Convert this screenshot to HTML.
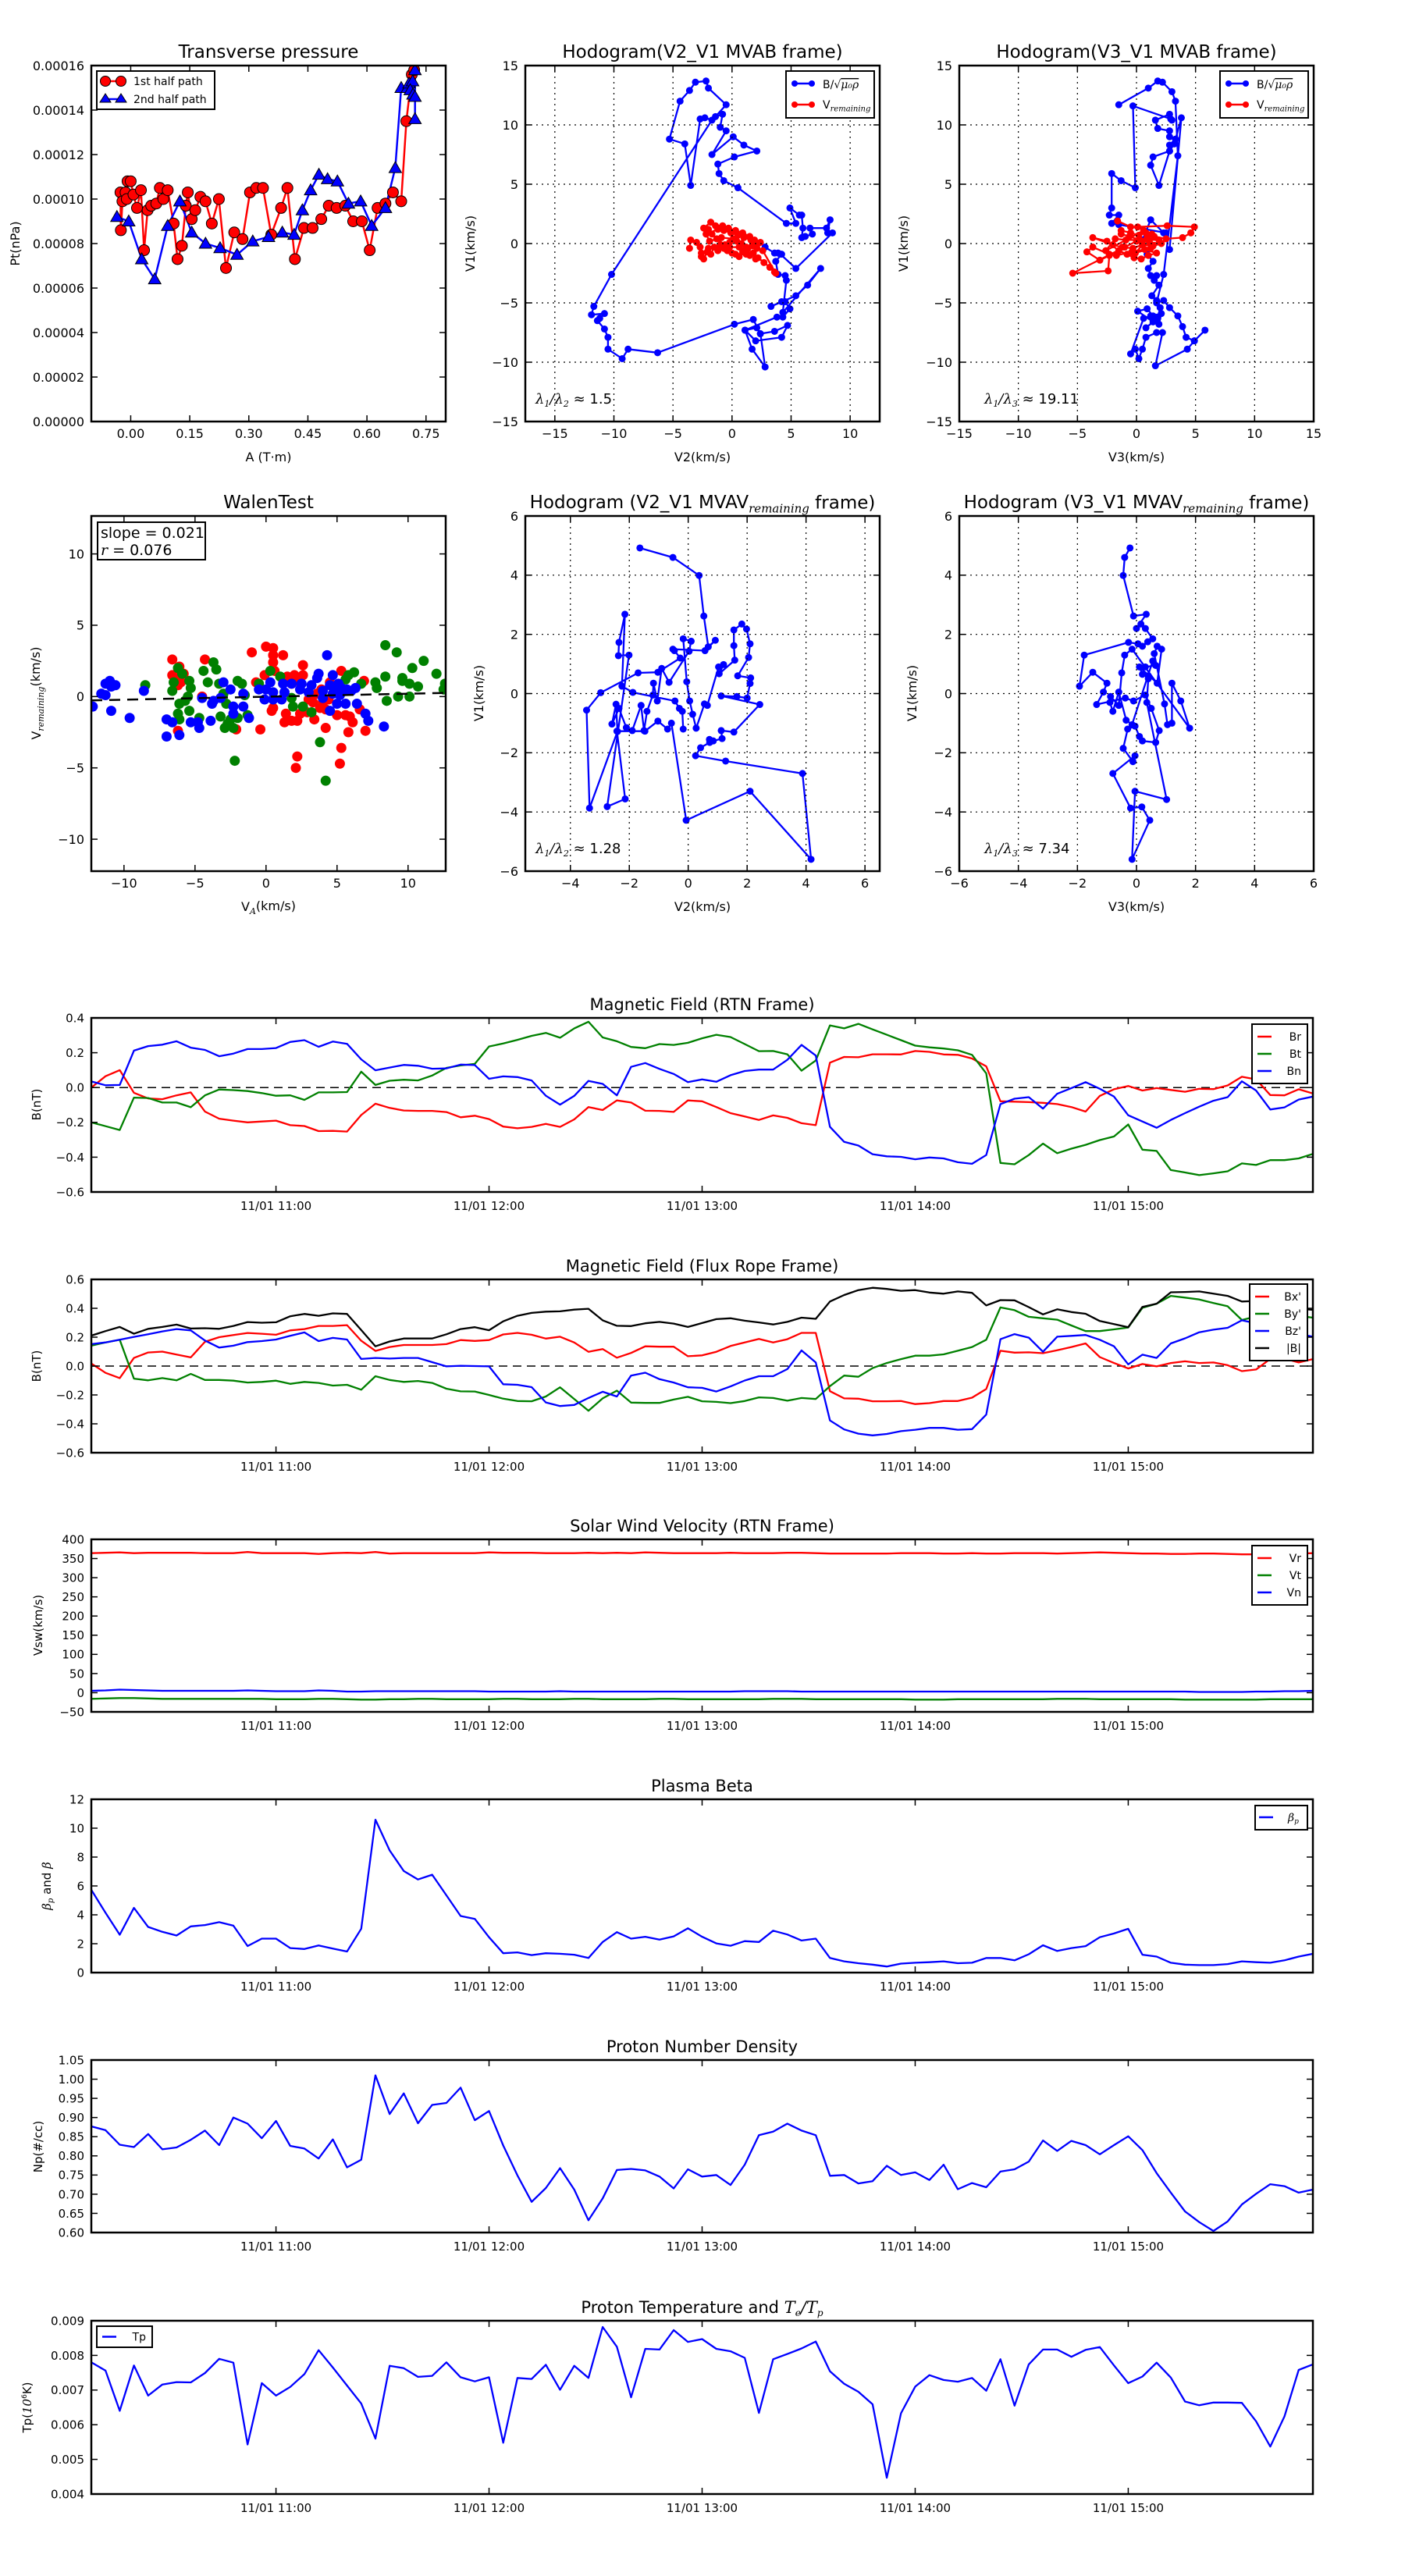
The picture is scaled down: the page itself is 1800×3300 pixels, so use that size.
<!DOCTYPE html>
<html><head><meta charset="utf-8">
<style>
html,body{margin:0;padding:0;background:#fff;}
svg{display:block;font-family:"DejaVu Sans","Liberation Sans",sans-serif;}
.m{font-family:"DejaVu Serif","Liberation Serif",serif;font-style:italic;}
</style></head>
<body>
<svg id="fig" xmlns="http://www.w3.org/2000/svg" width="1800" height="3300" viewBox="0 0 1800 3300">
<rect x="0" y="0" width="1800" height="3300" fill="#fff"/>
</svg>
<script>
// ---------------- DATA ----------------
// Transverse pressure (A in T·m, Pt in 1e-5 nPa)
const tp1A=[-0.026,-0.025,-0.021,-0.013,-0.010,-0.008,0.000,0.007,0.016,0.026,0.034,0.043,0.052,0.065,0.074,0.083,0.094,0.109,0.119,0.130,0.140,0.145,0.155,0.164,0.177,0.190,0.206,0.224,0.242,0.263,0.284,0.303,0.319,0.336,0.357,0.382,0.398,0.417,0.440,0.462,0.484,0.503,0.523,0.545,0.565,0.587,0.607,0.627,0.647,0.666,0.687,0.700,0.714,0.720];
const tp1P=[10.3,8.6,9.9,10.3,10.0,10.8,10.8,10.2,9.6,10.4,7.7,9.5,9.7,9.8,10.5,10.0,10.4,8.9,7.3,7.9,9.7,10.3,9.1,9.5,10.1,9.9,8.9,10.0,6.9,8.5,8.2,10.3,10.5,10.5,8.4,9.6,10.5,7.3,8.7,8.7,9.1,9.7,9.6,9.7,9.0,9.0,7.7,9.6,9.8,10.3,9.9,13.5,15.6,15.8];
const tp2A=[-0.035,-0.005,0.028,0.061,0.094,0.125,0.155,0.190,0.227,0.270,0.310,0.350,0.385,0.415,0.436,0.457,0.478,0.500,0.525,0.553,0.584,0.612,0.647,0.672,0.687,0.703,0.707,0.716,0.710,0.717,0.722,0.722,0.722];
const tp2P=[9.2,9.0,7.3,6.4,8.8,9.9,8.5,8.0,7.8,7.5,8.1,8.3,8.5,8.4,9.5,10.4,11.1,10.9,10.8,9.8,9.9,8.8,9.6,11.4,15.0,15.0,15.2,15.3,14.9,14.7,14.6,13.6,15.8];
const tpXTicks=[0,0.15,0.30,0.45,0.60,0.75];
const tpYTicks=[0,2,4,6,8,10,12,14,16];

// Hodogram V2_V1 MVAB
const h1bV2=[2.8,3.6,4.1,5.4,8.5,8.1,8.3,8.0,6.6,6.8,6.2,5.9,6.0,5.9,5.7,4.9,5.4,4.6,0.5,-0.7,-1.1,-1.2,0.2,2.1,1.0,0.1,-1.7,-0.5,-1.0,-0.8,-1.4,-0.5,-2.0,-2.2,-3.1,-3.6,-4.4,-5.3,-4.0,-3.5,-2.7,-2.3,-1.7,-10.2,-11.7,-11.9,-10.8,-11.2,-11.4,-10.8,-10.5,-10.5,-9.3,-8.8,-6.3,0.2,1.8,2.4,2.1,1.1,1.7,2.8,2.4,3.6,4.7,4.2,2.0,1.1,3.8,4.3,4.9,4.5,4.2,3.3,5.4,6.4,7.5,4.3,4.6,4.5,3.9,3.7,4.2,3.9];
const h1bV1=[-0.3,-0.8,-0.9,-2.1,0.9,0.9,2.0,1.3,1.3,0.8,0.6,0.5,1.3,2.4,2.4,3.0,1.7,1.7,4.7,5.3,5.9,6.7,7.3,7.8,8.3,9.0,7.5,9.5,9.8,10.9,10.7,11.7,13.1,13.7,13.6,12.9,12.0,8.8,8.4,4.9,10.5,10.6,10.4,-2.6,-5.3,-6.0,-5.9,-6.3,-6.5,-7.2,-7.9,-8.9,-9.7,-8.9,-9.2,-6.8,-6.4,-7.6,-7.1,-7.3,-8.9,-10.4,-7.6,-7.4,-6.9,-7.9,-8.2,-7.3,-6.2,-6.2,-5.5,-4.9,-4.9,-5.3,-4.4,-3.5,-2.1,-5.8,-3.1,-2.7,-2.6,-1.5,-0.9,-0.8];
const h1rV2=[-3.6,-3.5,-3.0,-2.7,-2.6,-2.6,-2.4,-2.1,-2.0,-1.8,-1.5,-1.2,-1.0,-0.7,-0.4,0.0,0.3,0.6,0.9,1.2,1.5,1.8,2.0,2.2,2.7,3.2,3.6,3.7,2.6,2.1,1.7,1.2,0.8,0.4,-0.2,-0.6,-1.3,-1.7,-2.0,-2.4,-1.8,-1.4,-0.8,-0.3,0.3,0.9,1.5,1.9,2.2,2.4,1.6,1.0,0.5,-0.1,-0.7,-1.2,-2.2,-1.9,-0.9,0.1,1.3,0.6,-0.2];
const h1rV1=[-0.4,0.3,0.1,-0.3,-0.8,-1.1,-1.3,-0.7,-0.4,-0.9,-0.3,-0.6,-0.1,-0.4,-0.6,-0.8,-0.9,-1.1,-0.7,-0.9,-1.0,-0.8,-1.3,-1.2,-1.6,-2.0,-2.4,-2.5,-0.6,-0.4,-0.2,-0.3,0.0,0.2,0.1,-0.1,0.4,0.8,1.2,1.3,1.8,1.5,1.5,1.3,1.1,0.9,0.6,0.3,0.0,0.1,0.3,0.5,0.7,0.9,1.1,1.2,0.8,0.2,0.5,0.4,-0.5,-0.3,-0.3];

// Hodogram V3_V1 MVAB
const h2bV3=[-1.5,1.0,1.8,2.2,3.0,3.3,3.5,2.3,1.7,2.3,2.8,3.5,3.9,4.2,4.9,5.8,4.9,4.3,1.6,2.2,1.7,0.8,0.5,0.2,-0.1,-0.5,0.6,1.2,2.1,1.9,1.4,0.9,0.1,1.4,0.8,1.8,2.0,1.7,1.3,1.9,1.5,1.7,1.2,1.0,1.4,0.9,0.5,1.2,2.3,2.5,-1.5,-2.1,-1.5,-2.3,-2.1,-2.1,-1.3,-0.1,-0.3,2.9,3.0,2.8,1.6,1.8,2.8,2.8,3.3,2.8,2.8,1.4,1.2,1.9,2.8,3.2,3.8,2.8];
const h2bV1=[11.7,13.1,13.7,13.6,12.8,12.0,7.4,-2.6,-5.0,-4.8,-5.4,-6.1,-7.0,-7.9,-8.2,-7.3,-8.2,-8.9,-10.3,-7.5,-7.5,-7.9,-8.9,-9.7,-8.9,-9.3,-6.3,-6.1,-5.9,-6.8,-6.1,-5.5,-5.7,-6.6,-7.1,-6.3,-5.4,-4.8,-4.4,-3.5,-3.1,-2.7,-2.7,-2.1,-1.5,-0.9,0.3,2.0,0.9,0.9,1.6,1.7,2.4,2.4,3.0,5.9,5.3,4.7,11.6,10.5,10.4,10.9,10.4,9.7,9.5,9.0,8.8,8.3,7.8,7.3,6.6,4.9,7.8,8.4,10.6,-0.5];
const h2rV3=[-1.6,-0.5,0.1,2.6,4.9,4.6,3.9,2.5,1.5,0.8,0.2,-0.5,-1.3,-1.3,-0.6,0.3,1.1,2.1,1.4,0.5,-0.3,-1.2,-2.0,-3.7,-2.5,-1.5,-0.8,-0.2,0.4,1.0,1.7,0.7,-0.4,-1.7,-2.3,-3.7,-4.2,-3.1,-2.3,-2.4,-5.4,-1.0,0.0,0.9,1.9,-0.9,-1.8,-2.6,0.6,1.3,-0.1,1.2];
const h2rV1=[1.9,1.4,1.4,1.5,1.4,0.9,0.5,0.4,0.6,0.9,0.7,0.9,1.1,0.8,0.6,0.3,0.1,0.0,-0.2,-0.1,-0.4,-0.3,-0.1,0.5,0.2,-0.6,-0.9,-1.2,-1.3,-1.0,-0.8,-0.5,-0.7,-1.0,-0.9,-0.3,-0.7,-1.4,-1.0,-2.3,-2.5,-0.3,0.2,0.5,0.3,0.3,0.4,-0.6,1.1,0.8,-0.8,-0.4];
const mvabTicks=[-15,-10,-5,0,5,10,15];

// Walen test
const walRedX=[0.0,0.5,0.5,-1.0,1.2,0.5,0.6,-0.1,1.5,2.0,2.6,2.6,2.2,1.8,-0.7,0.5,0.4,1.4,1.3,1.8,2.2,2.4,2.9,3.3,3.4,3.8,4.0,4.2,4.4,4.5,4.2,5.0,5.3,5.2,5.6,5.8,6.1,5.9,6.6,7.0,6.9,5.3,2.1,2.2,-0.4,-2.1,-6.6,-6.1,-6.6,-5.8,-6.2,-6.0,-6.2,-6.2,-4.3,-4.5,3.1,3.6,3.0,3.9];
const walRedY=[3.5,3.4,2.9,3.1,2.9,2.4,1.8,1.5,1.4,1.5,1.5,2.2,1.1,0.9,1.0,-0.8,-1.0,-1.2,-1.8,-1.7,-1.7,-1.2,-1.1,-0.4,-1.6,-0.8,-0.4,-0.9,-0.2,1.0,-2.2,-1.3,-3.6,-4.7,-1.3,-2.5,-1.8,-1.4,-0.9,-2.4,1.1,1.8,-5.0,-4.2,-2.3,-2.3,2.6,2.1,1.5,1.6,1.5,1.0,0.8,-2.4,2.6,0.0,0.0,0.2,-0.2,0.5];
const walGreenX=[-8.5,-6.6,-6.5,-6.2,-5.9,-5.4,-5.3,-5.5,-5.7,-6.1,-6.2,-6.1,-5.4,-4.7,-4.4,-4.1,-3.7,-3.5,-3.3,-3.0,-2.8,-2.7,-2.9,-2.5,-2.3,-2.0,-3.2,-2.0,-1.7,-1.5,-1.3,-2.2,-0.5,0.3,1.0,1.8,1.9,2.6,3.2,3.8,4.2,5.6,5.8,6.2,6.7,7.7,7.8,8.4,8.4,8.5,9.2,9.3,9.6,9.6,10.1,10.1,10.3,10.7,11.1,12.0,12.5,12.6];
const walGreenY=[0.8,0.4,1.0,2.0,1.6,1.1,0.6,0.0,-0.3,-0.5,-1.2,-1.6,-1.0,-1.5,1.8,1.0,2.4,1.9,0.9,0.2,-0.5,-1.9,-2.2,-1.6,-2.2,-1.5,-1.4,1.1,0.9,0.1,-1.3,-4.5,0.9,1.8,1.4,-0.1,-0.7,-0.7,-1.1,-3.2,-5.9,1.2,1.5,1.7,0.9,1.0,0.6,3.6,1.4,-0.3,3.1,0.0,1.3,1.1,0.0,0.9,2.0,0.7,2.5,1.6,0.5,0.9];
const walBlueX=[-12.2,-11.6,-11.3,-11.3,-11.0,-10.9,-10.6,-10.9,-9.6,-8.6,-7.0,-6.6,-7.0,-6.1,-5.3,-4.8,-4.7,-4.5,-3.9,-3.8,-3.7,-3.2,-3.0,-2.5,-2.3,-2.3,-1.6,-1.6,-1.2,-0.5,-0.1,0.0,0.3,0.5,0.5,1.1,1.2,1.3,1.8,2.4,2.5,3.0,3.2,3.6,3.7,4.0,4.0,4.3,4.5,4.5,4.7,4.9,5.0,5.1,5.3,5.5,5.6,5.7,6.0,6.3,6.4,7.0,7.2,8.3,4.7,5.2];
const walBlueY=[-0.7,0.2,0.1,0.9,1.1,0.7,0.8,-1.0,-1.5,0.4,-1.6,-1.8,-2.8,-2.7,-1.8,-1.8,-2.2,-0.1,-1.7,-0.5,-0.3,-0.1,1.0,0.5,-0.7,-1.2,0.2,-0.7,-1.5,0.5,-0.2,0.5,1.0,0.3,-0.2,-0.2,0.9,0.3,0.9,0.5,0.9,0.3,0.8,1.3,1.6,0.4,-0.1,2.9,0.8,-1.0,1.5,0.5,-0.5,0.9,0.6,0.4,-0.5,0.5,0.4,0.6,-0.5,-1.2,-1.7,-2.1,0.2,0.1];
const walenSlope=0.021, walenIntercept=-0.01;
const walTicks=[-10,-5,0,5,10];

// Hodogram V2_V1 MVAV
const h3V2=[-1.64,-0.52,0.37,0.53,0.68,0.92,0.57,-0.52,-0.47,-0.27,-1.03,-1.7,-2.97,-3.45,-3.35,-2.4,-2.45,-2.59,-2.35,-2.1,-1.9,-1.6,-1.5,-1.4,-1.2,-1.18,-1.05,-0.9,-0.65,0.03,0.1,-0.17,-0.05,0.05,0.15,0.27,0.55,0.65,1.03,1.2,1.05,1.58,1.55,1.55,1.82,1.98,2.1,2.05,1.68,2.12,2.1,2.0,1.65,1.12,2.43,1.55,1.12,1.15,0.85,0.72,0.73,0.42,0.25,1.27,3.88,4.17,2.1,-0.07,-0.57,-0.7,-1.03,-1.47,-2.42,-2.14,-2.75,-2.01,-2.37,-2.35,-2.15,-2.25,-1.88,-0.45,-0.3,-0.2,-0.17];
const h3V1=[4.92,4.6,3.99,2.62,1.58,1.8,1.45,1.5,1.45,1.2,0.72,0.7,0.03,-0.56,-3.87,-1.28,-0.36,-1.03,-0.5,-1.15,-1.25,-0.4,-1.25,-0.6,-0.05,0.35,-0.25,0.85,0.38,1.43,1.77,1.85,0.4,-0.25,-0.7,-1.17,-0.35,-0.4,0.9,0.98,0.67,1.13,1.62,2.15,2.35,2.18,1.68,1.22,0.6,0.53,0.34,-0.15,-0.1,-0.08,-0.37,-1.3,-1.25,-1.52,-1.6,-1.55,-1.65,-1.83,-2.1,-2.28,-2.7,-5.6,-3.3,-4.28,-1.0,-1.2,-0.93,-1.27,-1.27,-3.56,-3.82,1.3,1.28,1.73,2.68,0.25,0.04,-0.25,-0.5,-0.6,-1.2];
const h4V3=[-0.22,-0.4,-0.45,-0.1,0.33,0.0,0.15,0.3,0.55,0.38,0.2,0.05,-0.27,-1.77,-1.93,-1.48,-1.0,-1.12,-1.35,-0.38,-0.1,0.3,0.5,0.77,0.65,0.2,0.1,-0.05,-0.3,-0.45,-0.12,-0.05,-0.8,-0.2,0.18,0.45,-0.15,-0.05,1.02,0.35,0.4,0.4,0.2,0.1,0.7,0.85,0.7,0.6,0.95,1.05,1.2,1.2,1.5,1.8,-0.15,-0.4,-0.5,-0.6,-0.88,-0.9,-0.8,-0.6,-0.35,-0.15,0.55,0.65,0.3];
const h4V1=[4.92,4.6,3.99,2.62,2.68,2.2,2.35,2.2,1.85,1.75,1.6,1.68,1.73,1.3,0.25,0.72,0.35,0.05,-0.37,-0.15,-0.25,-0.05,-0.5,-1.25,-1.65,-1.6,-1.45,-1.1,-1.2,-1.85,-2.3,-2.1,-2.7,-3.87,-3.83,-4.28,-5.6,-3.3,-3.58,-0.3,0.5,0.6,0.65,0.9,0.35,1.5,1.6,1.35,-0.35,-1.05,-1.0,0.35,-0.25,-1.17,1.5,1.3,0.7,-0.4,-0.1,-0.3,-0.6,0.05,-0.9,-1.05,1.1,0.95,0.9];
const mvavTicksX=[-4,-2,0,2,4,6];
const mvavTicksY=[-6,-4,-2,0,2,4,6];
const mvavTicks3=[-6,-4,-2,0,2,4,6];

// Time series: 4-min cadence starting 10:08
const tStartMin=608, tStepMin=4;
const hourTicks=[660,720,780,840,900];
const hourLabels=['11/01 11:00','11/01 12:00','11/01 13:00','11/01 14:00','11/01 15:00'];
const Br=[0.0,0.065,0.10,-0.03,-0.063,-0.067,-0.045,-0.028,-0.138,-0.179,-0.19,-0.20,-0.195,-0.19,-0.216,-0.221,-0.25,-0.249,-0.253,-0.158,-0.093,-0.117,-0.132,-0.134,-0.134,-0.141,-0.171,-0.162,-0.181,-0.224,-0.234,-0.226,-0.209,-0.226,-0.183,-0.112,-0.129,-0.074,-0.086,-0.133,-0.134,-0.14,-0.074,-0.079,-0.112,-0.147,-0.166,-0.186,-0.16,-0.174,-0.205,-0.216,0.143,0.176,0.174,0.191,0.191,0.19,0.21,0.205,0.19,0.188,0.167,0.122,-0.079,-0.081,-0.084,-0.088,-0.095,-0.112,-0.138,-0.048,-0.01,0.009,-0.017,-0.003,-0.014,-0.024,-0.007,-0.009,0.012,0.062,0.047,-0.043,-0.045,-0.01,-0.034];
const Bt=[-0.20,-0.222,-0.244,-0.058,-0.06,-0.086,-0.086,-0.113,-0.045,-0.011,-0.015,-0.02,-0.032,-0.047,-0.045,-0.071,-0.028,-0.028,-0.026,0.091,0.015,0.039,0.045,0.041,0.069,0.113,0.127,0.136,0.236,0.253,0.274,0.297,0.314,0.286,0.34,0.378,0.288,0.266,0.233,0.226,0.25,0.245,0.257,0.283,0.303,0.29,0.25,0.209,0.21,0.191,0.097,0.155,0.357,0.34,0.366,0.334,0.303,0.272,0.241,0.231,0.224,0.214,0.188,0.081,-0.433,-0.441,-0.388,-0.322,-0.377,-0.351,-0.329,-0.302,-0.281,-0.212,-0.357,-0.364,-0.474,-0.488,-0.503,-0.493,-0.481,-0.436,-0.445,-0.417,-0.417,-0.407,-0.381];
const Bn=[0.035,0.013,0.015,0.212,0.238,0.246,0.266,0.229,0.216,0.18,0.195,0.221,0.221,0.227,0.262,0.272,0.234,0.264,0.251,0.162,0.099,0.115,0.13,0.125,0.108,0.11,0.132,0.129,0.05,0.064,0.06,0.041,-0.047,-0.098,-0.048,0.038,0.021,-0.045,0.119,0.141,0.107,0.078,0.031,0.047,0.033,0.071,0.095,0.103,0.103,0.159,0.245,0.184,-0.226,-0.312,-0.333,-0.383,-0.395,-0.398,-0.412,-0.402,-0.407,-0.429,-0.438,-0.388,-0.095,-0.064,-0.055,-0.121,-0.036,-0.003,0.031,-0.007,-0.052,-0.159,-0.195,-0.231,-0.186,-0.147,-0.11,-0.076,-0.055,0.036,-0.017,-0.126,-0.114,-0.069,-0.052];
const Bx=[0.018,-0.047,-0.083,0.056,0.094,0.1,0.08,0.06,0.168,0.2,0.215,0.229,0.224,0.217,0.247,0.256,0.278,0.278,0.283,0.175,0.105,0.132,0.146,0.146,0.146,0.152,0.18,0.174,0.18,0.219,0.23,0.217,0.19,0.203,0.163,0.099,0.118,0.058,0.091,0.137,0.134,0.134,0.068,0.074,0.099,0.139,0.163,0.188,0.163,0.186,0.23,0.23,-0.174,-0.224,-0.226,-0.244,-0.244,-0.242,-0.263,-0.257,-0.242,-0.242,-0.219,-0.159,0.106,0.093,0.095,0.089,0.11,0.132,0.157,0.062,0.021,-0.017,0.014,-0.002,0.021,0.033,0.021,0.025,0.006,-0.035,-0.024,0.05,0.052,0.025,0.048];
const By=[0.141,0.164,0.182,-0.087,-0.099,-0.083,-0.099,-0.054,-0.096,-0.096,-0.101,-0.114,-0.11,-0.101,-0.123,-0.11,-0.117,-0.135,-0.13,-0.164,-0.07,-0.096,-0.11,-0.103,-0.117,-0.157,-0.175,-0.176,-0.2,-0.226,-0.242,-0.244,-0.211,-0.147,-0.228,-0.31,-0.224,-0.17,-0.253,-0.255,-0.255,-0.232,-0.213,-0.244,-0.248,-0.257,-0.242,-0.217,-0.221,-0.24,-0.221,-0.228,-0.139,-0.066,-0.074,-0.014,0.021,0.048,0.072,0.072,0.081,0.106,0.132,0.182,0.406,0.387,0.341,0.331,0.321,0.281,0.242,0.242,0.254,0.267,0.403,0.432,0.486,0.474,0.461,0.437,0.414,0.319,0.343,0.354,0.354,0.348,0.335];
const Bz=[0.152,0.164,0.182,0.202,0.22,0.24,0.256,0.247,0.177,0.128,0.141,0.166,0.173,0.184,0.209,0.233,0.173,0.195,0.184,0.049,0.056,0.052,0.056,0.056,0.027,-0.002,0.002,0.0,-0.002,-0.126,-0.13,-0.146,-0.252,-0.277,-0.269,-0.221,-0.178,-0.211,-0.066,-0.046,-0.091,-0.114,-0.147,-0.151,-0.176,-0.141,-0.1,-0.07,-0.07,-0.021,0.108,0.025,-0.377,-0.439,-0.468,-0.48,-0.47,-0.451,-0.441,-0.428,-0.428,-0.441,-0.437,-0.336,0.186,0.221,0.197,0.099,0.203,0.209,0.215,0.182,0.137,0.012,0.079,0.056,0.157,0.192,0.234,0.252,0.265,0.317,0.296,0.265,0.24,0.223,0.203];
const Bmag=[0.211,0.242,0.271,0.224,0.258,0.271,0.287,0.26,0.262,0.258,0.278,0.305,0.3,0.303,0.345,0.361,0.348,0.365,0.361,0.249,0.137,0.17,0.191,0.191,0.191,0.22,0.256,0.269,0.248,0.31,0.348,0.368,0.377,0.379,0.391,0.397,0.317,0.279,0.277,0.296,0.306,0.294,0.271,0.298,0.325,0.331,0.314,0.302,0.288,0.306,0.335,0.327,0.447,0.492,0.526,0.542,0.534,0.521,0.526,0.509,0.501,0.517,0.507,0.42,0.457,0.455,0.408,0.358,0.393,0.374,0.362,0.312,0.29,0.269,0.41,0.432,0.511,0.513,0.517,0.501,0.486,0.447,0.451,0.43,0.41,0.397,0.389];
const Vr=[364,365,366,364,365,365,365,365,364,364,364,367,364,364,364,364,362,364,365,364,367,363,364,364,364,364,364,364,366,365,365,365,364,364,364,365,364,365,364,366,365,364,364,364,364,365,364,364,364,365,365,364,363,363,363,363,363,364,364,364,363,363,364,363,363,364,364,364,363,364,365,366,365,364,363,363,362,362,363,363,362,361,361,361,362,363,364];
const Vt=[-16,-15,-14,-14,-15,-16,-16,-16,-16,-16,-16,-16,-16,-17,-17,-17,-16,-16,-17,-18,-18,-17,-17,-16,-16,-17,-17,-17,-17,-16,-16,-17,-17,-17,-16,-16,-17,-17,-17,-17,-16,-16,-17,-17,-17,-17,-17,-17,-16,-16,-16,-17,-17,-17,-17,-17,-17,-17,-18,-18,-18,-17,-17,-17,-17,-17,-17,-17,-16,-16,-16,-17,-17,-17,-17,-17,-17,-18,-18,-18,-18,-18,-18,-17,-17,-17,-17];
const Vn=[5,6,8,7,6,5,5,5,5,5,5,6,5,4,4,4,6,5,3,3,4,4,4,4,4,4,4,4,3,3,3,3,3,4,3,3,3,3,3,3,3,3,3,3,3,3,4,4,4,4,3,3,3,3,3,3,3,3,3,3,3,3,3,3,3,3,3,3,3,3,3,3,3,3,3,3,3,3,2,2,2,2,3,3,4,4,5];
const betaP=[5.73,4.14,2.62,4.48,3.16,2.82,2.57,3.2,3.29,3.49,3.25,1.84,2.35,2.35,1.7,1.63,1.88,1.66,1.46,3.04,10.59,8.46,7.03,6.45,6.78,5.35,3.92,3.72,2.45,1.34,1.4,1.21,1.34,1.3,1.24,1.01,2.12,2.8,2.35,2.48,2.28,2.51,3.07,2.48,2.02,1.86,2.18,2.12,2.9,2.64,2.22,2.35,1.01,0.78,0.65,0.55,0.42,0.62,0.68,0.72,0.78,0.65,0.68,1.01,1.01,0.85,1.27,1.89,1.5,1.7,1.83,2.45,2.71,3.03,1.24,1.11,0.68,0.55,0.52,0.52,0.59,0.78,0.72,0.68,0.85,1.11,1.3];
const Np=[0.877,0.867,0.829,0.823,0.857,0.817,0.822,0.842,0.866,0.828,0.9,0.884,0.846,0.891,0.826,0.819,0.793,0.843,0.77,0.79,1.01,0.909,0.963,0.885,0.933,0.938,0.978,0.893,0.917,0.827,0.749,0.68,0.716,0.768,0.712,0.632,0.689,0.763,0.766,0.762,0.746,0.715,0.765,0.746,0.75,0.724,0.777,0.854,0.863,0.884,0.866,0.854,0.748,0.75,0.728,0.734,0.774,0.75,0.757,0.737,0.777,0.713,0.729,0.718,0.759,0.765,0.785,0.84,0.813,0.839,0.828,0.804,0.828,0.851,0.815,0.755,0.704,0.655,0.627,0.604,0.629,0.673,0.701,0.726,0.721,0.704,0.712];
const Tp=[0.0078,0.00756,0.0064,0.00771,0.00684,0.00716,0.00723,0.00722,0.00749,0.0079,0.00779,0.00543,0.0072,0.00684,0.00709,0.00746,0.00815,0.00765,0.00713,0.00661,0.0056,0.0077,0.00763,0.00738,0.00741,0.0078,0.00737,0.00725,0.00737,0.00548,0.00735,0.00732,0.00773,0.00701,0.0077,0.00735,0.00882,0.00825,0.00679,0.00819,0.00817,0.00873,0.00839,0.00847,0.00819,0.00812,0.00793,0.00634,0.00789,0.00804,0.0082,0.0084,0.00754,0.00718,0.00695,0.00659,0.00447,0.00633,0.0071,0.00743,0.00729,0.00724,0.00735,0.00698,0.00789,0.00655,0.00774,0.00817,0.00817,0.00796,0.00816,0.00824,0.00771,0.0072,0.00739,0.00779,0.00736,0.00667,0.00656,0.00664,0.00664,0.00663,0.0061,0.00537,0.00624,0.00758,0.00774];
const bTicksRTN=[-0.6,-0.4,-0.2,0.0,0.2,0.4];
const bTicksFR=[-0.6,-0.4,-0.2,0.0,0.2,0.4,0.6];
const vTicks=[-50,0,50,100,150,200,250,300,350,400];
const betaTicks=[0,2,4,6,8,10,12];
const npTicks=[0.60,0.65,0.70,0.75,0.80,0.85,0.90,0.95,1.00,1.05];
const tpTicks=[0.004,0.005,0.006,0.007,0.008,0.009];

// ---------------- DRAWING ----------------
const NS='http://www.w3.org/2000/svg';
const svg=document.getElementById('fig');
function el(tag,attrs,parent){const e=document.createElementNS(NS,tag);for(const k in attrs)e.setAttribute(k,attrs[k]);(parent||svg).appendChild(e);return e;}
function fmtNum(v,d){const s=Math.abs(v).toFixed(d);return (v<-1e-12?'\u2212':'')+s;}
let clipId=0;
function axes(name,l,t,r,b,xmin,xmax,ymin,ymax){
  const g=el('g',{});
  
  
  const cid='clip'+(clipId++);
  const cp=el('clipPath',{id:cid},g);
  el('rect',{x:l,y:t,width:r-l,height:b-t},cp);
  const data=el('g',{'clip-path':'url(#'+cid+')'},g);
  
  
  return {g,data,l,t,r,b,x:v=>l+(v-xmin)/(xmax-xmin)*(r-l),y:v=>b-(v-ymin)/(ymax-ymin)*(b-t)};
}
function text(parent,x,y,str,size,anchor,extra){
  const t=el('text',Object.assign({x:x,y:y,'font-size':size,'text-anchor':anchor||'middle',fill:'#000'},extra||{}),parent);
  t.textContent=str;return t;
}
function grid(ax,xt,yt){
  for(const v of xt){const ln=el('line',{x1:ax.x(v),x2:ax.x(v),y1:ax.t,y2:ax.b,stroke:'#000','stroke-width':1.2,'stroke-dasharray':'2,5'},ax.g);
    
    }
  for(const v of yt){const ln=el('line',{x1:ax.l,x2:ax.r,y1:ax.y(v),y2:ax.y(v),stroke:'#000','stroke-width':1.2,'stroke-dasharray':'2,5'},ax.g);
    
    }
}
function frame(ax,xt,xlab,yt,ylab,fs,xoff){
  const g=ax.g;
  xt.forEach((v,i)=>{const X=ax.x(v);
    el('line',{x1:X,x2:X,y1:ax.b,y2:ax.b-8,stroke:'#000','stroke-width':1.5},g);
    el('line',{x1:X,x2:X,y1:ax.t,y2:ax.t+8,stroke:'#000','stroke-width':1.5},g);
    if(xlab){const t=text(g,X,ax.b+(xoff||21),xlab(v,i),fs,'middle');
      
      }
  });
  yt.forEach((v,i)=>{const Y=ax.y(v);
    el('line',{x1:ax.l,x2:ax.l+8,y1:Y,y2:Y,stroke:'#000','stroke-width':1.5},g);
    el('line',{x1:ax.r,x2:ax.r-8,y1:Y,y2:Y,stroke:'#000','stroke-width':1.5},g);
    if(ylab){const t=text(g,ax.l-9,Y+fs*0.36,ylab(v,i),fs,'end');
      
      }
  });
  const sp=el('rect',{x:ax.l,y:ax.t,width:ax.r-ax.l,height:ax.b-ax.t,fill:'none',stroke:'#000','stroke-width':2.5},g);
  
  
}
function poly(ax,xs,ys,color,w,name){
  const pts=xs.map((x,i)=>ax.x(x).toFixed(1)+','+ax.y(ys[i]).toFixed(1)).join(' ');
  const p=el('polyline',{points:pts,fill:'none',stroke:color,'stroke-width':w,'stroke-linejoin':'round'},ax.data);
  
  
  return p;
}
function dots(ax,xs,ys,color,r,name,edge){
  const g=el('g',{},ax.data);
  
  
  xs.forEach((x,i)=>{const c=el('circle',{cx:ax.x(x),cy:ax.y(ys[i]),r:r,fill:color,stroke:edge?'#000':'none','stroke-width':1},g);
    
    });
}
function tris(ax,xs,ys,color,s,name){
  const g=el('g',{},ax.data);
  
  
  xs.forEach((x,i)=>{const X=ax.x(x),Y=ax.y(ys[i]);
    const p=el('polygon',{points:`${X},${Y-s} ${X-s},${Y+s*0.75} ${X+s},${Y+s*0.75}`,fill:color,stroke:'#000','stroke-width':1},g);
    
    });
}
function title(ax,str,fs){const t=text(ax.g,(ax.l+ax.r)/2,ax.t-10,str,fs,'middle');
  
  return t;}
function sub(parent,str,size){const s=el('tspan',{'class':'m','font-size':size,dy:size*0.35},parent);s.textContent=str;return s;}
function ylabel(parent,x,y,fs){const t=el('text',{x:0,y:0,'font-size':fs,'text-anchor':'middle',transform:`translate(${x},${y}) rotate(-90)`,fill:'#000'},parent);
  
  return t;}
function xlabel(parent,x,y,str,fs){const t=text(parent,x,y,str,fs,'middle');
  
  return t;}
function legendBox(parent,x,y,w,h){const r=el('rect',{x:x,y:y,width:w,height:h,fill:'#fff',stroke:'#000','stroke-width':2},parent);
  
  }

// ===== Transverse pressure =====
{
 const ax=axes('transverse-pressure-chart',117,84,571,540,-0.1,0.8,0,16);
 poly(ax,tp1A,tp1P,'#f00',2.5,'first-half-line');
 poly(ax,tp2A,tp2P,'#00f',2.5,'second-half-line');
 dots(ax,tp1A,tp1P,'#f00',7,'first-half-markers',true);
 tris(ax,tp2A,tp2P,'#00f',8,'second-half-markers');
 frame(ax,tpXTicks,v=>v.toFixed(2),tpYTicks,v=>(v*1e-5).toFixed(5),16);
 title(ax,'Transverse pressure',23);
 xlabel(ax.g,344,591,'A (T\u00b7m)',16);
 const yl=ylabel(ax.g,25,312,16); yl.textContent='Pt(nPa)';
 const lg=el('g',{},ax.g);
 
 
 legendBox(lg,124,91,151,49);
 el('line',{x1:135,x2:155,y1:104,y2:104,stroke:'#f00','stroke-width':2.5},lg);
 el('circle',{cx:135,cy:104,r:6.5,fill:'#f00',stroke:'#000'},lg);
 el('circle',{cx:155,cy:104,r:6.5,fill:'#f00',stroke:'#000'},lg);
 const l1=text(lg,171,109,'1st half path',14,'start');
 
 
 el('line',{x1:135,x2:155,y1:127,y2:127,stroke:'#00f','stroke-width':2.5},lg);
 el('polygon',{points:'135,120 128,131 142,131',fill:'#00f',stroke:'#000'},lg);
 el('polygon',{points:'155,120 148,131 162,131',fill:'#00f',stroke:'#000'},lg);
 const l2=text(lg,171,132,'2nd half path',14,'start');
 
 
}

function hodoLegend(parent,x,y){
 const lg=el('g',{},parent);
 
 
 legendBox(lg,x,y,113,60);
 el('line',{x1:x+11,x2:x+33,y1:y+16,y2:y+16,stroke:'#00f','stroke-width':2.5},lg);
 el('circle',{cx:x+11,cy:y+16,r:4,fill:'#00f'},lg);
 el('circle',{cx:x+33,cy:y+16,r:4,fill:'#00f'},lg);
 const a=text(lg,x+47,y+22,'B/',14,'start');
 
 
 const sq=el('tspan',{},a); sq.textContent='\u221a';
 const mu=el('tspan',{'class':'m',style:'text-decoration:overline'},a); mu.textContent='\u03bc\u2080\u03c1';
 el('line',{x1:x+11,x2:x+33,y1:y+43,y2:y+43,stroke:'#f00','stroke-width':2.5},lg);
 el('circle',{cx:x+11,cy:y+43,r:4,fill:'#f00'},lg);
 el('circle',{cx:x+33,cy:y+43,r:4,fill:'#f00'},lg);
 const b=text(lg,x+47,y+48,'V',14,'start');
 
 
 sub(b,'remaining',10);
}
function lambdaText(parent,x,y,a,b,val){
 const t=text(parent,x,y,'',18,'start');
 
 
 const s1=el('tspan',{'class':'m'},t); s1.textContent='\u03bb';
 const s2=el('tspan',{'class':'m','font-size':11,dy:4},t); s2.textContent=a;
 const s3=el('tspan',{'class':'m',dy:-4},t); s3.textContent='/\u03bb';
 const s4=el('tspan',{'class':'m','font-size':11,dy:4},t); s4.textContent=b;
 const s5=el('tspan',{dy:-4},t); s5.textContent=' \u2248 '+val;
}

// ===== Hodogram V2_V1 MVAB =====
{
 const ax=axes('hodogram-v2-v1-mvab',673,84,1127,540,-17.5,12.5,-15,15);
 grid(ax,[-15,-10,-5,0,5,10],mvabTicks);
 poly(ax,h1bV2,h1bV1,'#00f',2.3,'alfven-velocity-path');
 dots(ax,h1bV2,h1bV1,'#00f',4.5,'alfven-velocity-markers');
 poly(ax,h1rV2,h1rV1,'#f00',2.3,'vremaining-path');
 dots(ax,h1rV2,h1rV1,'#f00',4.5,'vremaining-markers');
 frame(ax,[-15,-10,-5,0,5,10],v=>fmtNum(v,0),mvabTicks,v=>fmtNum(v,0),16);
 title(ax,'Hodogram(V2_V1 MVAB frame)',23);
 xlabel(ax.g,900,591,'V2(km/s)',16);
 const yl=ylabel(ax.g,608,312,16); yl.textContent='V1(km/s)';
 hodoLegend(ax.g,1007,91);
 lambdaText(ax.g,686,517,'1','2','1.5');
}
// ===== Hodogram V3_V1 MVAB =====
{
 const ax=axes('hodogram-v3-v1-mvab',1229,84,1683,540,-15,15,-15,15);
 grid(ax,mvabTicks,mvabTicks);
 poly(ax,h2bV3,h2bV1,'#00f',2.3,'alfven-velocity-path');
 dots(ax,h2bV3,h2bV1,'#00f',4.5,'alfven-velocity-markers');
 poly(ax,h2rV3,h2rV1,'#f00',2.3,'vremaining-path');
 dots(ax,h2rV3,h2rV1,'#f00',4.5,'vremaining-markers');
 frame(ax,mvabTicks,v=>fmtNum(v,0),mvabTicks,v=>fmtNum(v,0),16);
 title(ax,'Hodogram(V3_V1 MVAB frame)',23);
 xlabel(ax.g,1456,591,'V3(km/s)',16);
 const yl=ylabel(ax.g,1163,312,16); yl.textContent='V1(km/s)';
 hodoLegend(ax.g,1563,91);
 lambdaText(ax.g,1261,517,'1','3','19.11');
}
// ===== Walen test =====
{
 const ax=axes('walen-test-chart',117,661,571,1116,-12.3,12.65,-12.24,12.66);
 dots(ax,walRedX,walRedY,'#f00',6.5,'walen-red-points');
 dots(ax,walGreenX,walGreenY,'#008000',6.5,'walen-green-points');
 dots(ax,walBlueX,walBlueY,'#00f',6.5,'walen-blue-points');
 const fx=[-12.3,12.65];
 const fit=el('line',{x1:ax.x(fx[0]),y1:ax.y(walenSlope*fx[0]+walenIntercept),x2:ax.x(fx[1]),y2:ax.y(walenSlope*fx[1]+walenIntercept),stroke:'#000','stroke-width':2.5,'stroke-dasharray':'14,9'},ax.data);
 
 
 frame(ax,walTicks,v=>fmtNum(v,0),walTicks,v=>fmtNum(v,0),16);
 title(ax,'WalenTest',23);
 const xl=xlabel(ax.g,344,1167,'V',16); sub(xl,'A',11); const xt=el('tspan',{dy:-5},xl); xt.textContent='(km/s)';
 const yl=ylabel(ax.g,52,888,16); yl.textContent='V'; sub(yl,'remaining',11); const yt=el('tspan',{dy:-5},yl); yt.textContent='(km/s)';
 const bx=el('g',{},ax.g);
 
 
 legendBox(bx,125,669,138,48);
 const s1=text(bx,129,689,'slope = 0.021',19,'start');
 
 
 const s2=text(bx,129,711,'',19,'start');
 
 
 const rr=el('tspan',{'class':'m'},s2); rr.textContent='r'; const rv=el('tspan',{},s2); rv.textContent=' = 0.076';
}
function mvavTitle(ax,prefix){
 const t=title(ax,prefix+' MVAV',23);
 sub(t,'remaining',15);
 const r=el('tspan',{dy:-5},t); r.textContent=' frame)';
}
// ===== Hodogram V2_V1 MVAV =====
{
 const ax=axes('hodogram-v2-v1-mvav',673,661,1127,1116,-5.53,6.5,-6,6);
 grid(ax,mvavTicksX,mvavTicksY);
 poly(ax,h3V2,h3V1,'#00f',2.3,'alfven-velocity-path');
 dots(ax,h3V2,h3V1,'#00f',4.5,'alfven-velocity-markers');
 frame(ax,mvavTicksX,v=>fmtNum(v,0),mvavTicksY,v=>fmtNum(v,0),16);
 mvavTitle(ax,'Hodogram (V2_V1');
 xlabel(ax.g,900,1167,'V2(km/s)',16);
 const yl=ylabel(ax.g,619,888,16); yl.textContent='V1(km/s)';
 lambdaText(ax.g,686,1093,'1','2','1.28');
}
// ===== Hodogram V3_V1 MVAV =====
{
 const ax=axes('hodogram-v3-v1-mvav',1229,661,1683,1116,-6,6,-6,6);
 grid(ax,mvavTicks3,mvavTicks3);
 poly(ax,h4V3,h4V1,'#00f',2.3,'alfven-velocity-path');
 dots(ax,h4V3,h4V1,'#00f',4.5,'alfven-velocity-markers');
 frame(ax,mvavTicks3,v=>fmtNum(v,0),mvavTicks3,v=>fmtNum(v,0),16);
 mvavTitle(ax,'Hodogram (V3_V1');
 xlabel(ax.g,1456,1167,'V3(km/s)',16);
 const yl=ylabel(ax.g,1174,888,16); yl.textContent='V1(km/s)';
 lambdaText(ax.g,1261,1093,'1','3','7.34');
}

// ===== Time series =====
function tsAxes(name,t,b,ymin,ymax){return axes(name,117,t,1682,b,tStartMin,tStartMin+86*tStepMin,ymin,ymax);}
function tsLine(ax,arr,color,name){const xs=arr.map((v,k)=>tStartMin+k*tStepMin);return poly(ax,xs,arr,color,2.3,name);}
function zeroLine(ax){const z=el('line',{x1:ax.l,x2:ax.r,y1:ax.y(0),y2:ax.y(0),stroke:'#000','stroke-width':1.5,'stroke-dasharray':'11,7'},ax.data);
 
 }
function tsLegend(parent,x,y,w,entries,lh){
 const lg=el('g',{},parent);
 
 
 legendBox(lg,x,y,w,entries.length*lh+10);
 entries.forEach((e,i)=>{const Y=y+5+lh*(i+0.5);
  el('line',{x1:x+7,x2:x+25,y1:Y,y2:Y,stroke:e[1],'stroke-width':2.5},lg);
  const t=text(lg,x+w-8,Y+5,e[0],14,'end');
  
  });
 return lg;
}
const hourFmt=(v,i)=>hourLabels[i];

{
 const ax=tsAxes('magnetic-field-rtn-chart',1304,1527,-0.6,0.4);
 zeroLine(ax);
 tsLine(ax,Br,'#f00','br-line'); tsLine(ax,Bt,'#008000','bt-line'); tsLine(ax,Bn,'#00f','bn-line');
 frame(ax,hourTicks,hourFmt,bTicksRTN,v=>fmtNum(v,1),15,23);
 title(ax,'Magnetic Field (RTN Frame)',21);
 const yl=ylabel(ax.g,52,1415,15); yl.textContent='B(nT)';
 tsLegend(ax.g,1604,1312,71,[['Br','#f00'],['Bt','#008000'],['Bn','#00f']],22);
}
{
 const ax=tsAxes('magnetic-field-flux-rope-chart',1639,1861,-0.6,0.6);
 zeroLine(ax);
 tsLine(ax,Bx,'#f00','bx-line'); tsLine(ax,By,'#008000','by-line'); tsLine(ax,Bz,'#00f','bz-line'); tsLine(ax,Bmag,'#000','bmag-line');
 frame(ax,hourTicks,hourFmt,bTicksFR,v=>fmtNum(v,1),15,23);
 title(ax,'Magnetic Field (Flux Rope Frame)',21);
 const yl=ylabel(ax.g,52,1750,15); yl.textContent='B(nT)';
 tsLegend(ax.g,1601,1645,74,[["Bx'",'#f00'],["By'",'#008000'],["Bz'",'#00f'],['|B|','#000']],22);
}
{
 const ax=tsAxes('solar-wind-velocity-chart',1972,2193,-50,400);
 tsLine(ax,Vr,'#f00','vr-line'); tsLine(ax,Vt,'#008000','vt-line'); tsLine(ax,Vn,'#00f','vn-line');
 frame(ax,hourTicks,hourFmt,vTicks,v=>fmtNum(v,0),15,23);
 title(ax,'Solar Wind Velocity (RTN Frame)',21);
 const yl=ylabel(ax.g,54,2082,15); yl.textContent='Vsw(km/s)';
 tsLegend(ax.g,1604,1980,71,[['Vr','#f00'],['Vt','#008000'],['Vn','#00f']],22);
}
{
 const ax=tsAxes('plasma-beta-chart',2305,2527,0,12);
 tsLine(ax,betaP,'#00f','beta-p-line');
 frame(ax,hourTicks,hourFmt,betaTicks,v=>fmtNum(v,0),15,23);
 title(ax,'Plasma Beta',21);
 const yl=ylabel(ax.g,65,2416,15);
 const b1=el('tspan',{'class':'m'},yl); b1.textContent='\u03b2';
 const b2=el('tspan',{'class':'m','font-size':10,dy:3},yl); b2.textContent='p';
 const b3=el('tspan',{dy:-3},yl); b3.textContent=' and ';
 const b4=el('tspan',{'class':'m'},yl); b4.textContent='\u03b2';
 const lg=el('g',{},ax.g);
 
 
 legendBox(lg,1608,2313,67,31);
 el('line',{x1:1613,x2:1631,y1:2328,y2:2328,stroke:'#00f','stroke-width':2.5},lg);
 const lt=text(lg,1650,2333,'',14,'start');
 
 
 const l1=el('tspan',{'class':'m'},lt); l1.textContent='\u03b2';
 const l2=el('tspan',{'class':'m','font-size':9,dy:3},lt); l2.textContent='p';
}
{
 const ax=tsAxes('proton-density-chart',2639,2860,0.60,1.05);
 tsLine(ax,Np,'#00f','np-line');
 frame(ax,hourTicks,hourFmt,npTicks,v=>v.toFixed(2),15,23);
 title(ax,'Proton Number Density',21);
 const yl=ylabel(ax.g,54,2750,15); yl.textContent='Np(#/cc)';
}
{
 const ax=tsAxes('proton-temperature-chart',2973,3195,0.004,0.009);
 tsLine(ax,Tp,'#00f','tp-line');
 frame(ax,hourTicks,hourFmt,tpTicks,v=>v.toFixed(3),15,23);
 const t=title(ax,'Proton Temperature and ',21);
 const a=el('tspan',{'class':'m'},t); a.textContent='T';
 const b=el('tspan',{'class':'m','font-size':12,dy:4},t); b.textContent='e';
 const c=el('tspan',{'class':'m',dy:-4},t); c.textContent='/T';
 const d=el('tspan',{'class':'m','font-size':12,dy:4},t); d.textContent='p';
 const yl=ylabel(ax.g,40,3084,15); yl.textContent='Tp(';
 const y2=el('tspan',{'class':'m','font-style':'normal'},yl); y2.textContent='10';
 const y3=el('tspan',{'font-size':9,dy:-6},yl); y3.textContent='6';
 const y4=el('tspan',{dy:6},yl); y4.textContent='K)';
 tsLegend(ax.g,124,2980,71,[['Tp','#00f']],17);
}
</script>
</body></html>
